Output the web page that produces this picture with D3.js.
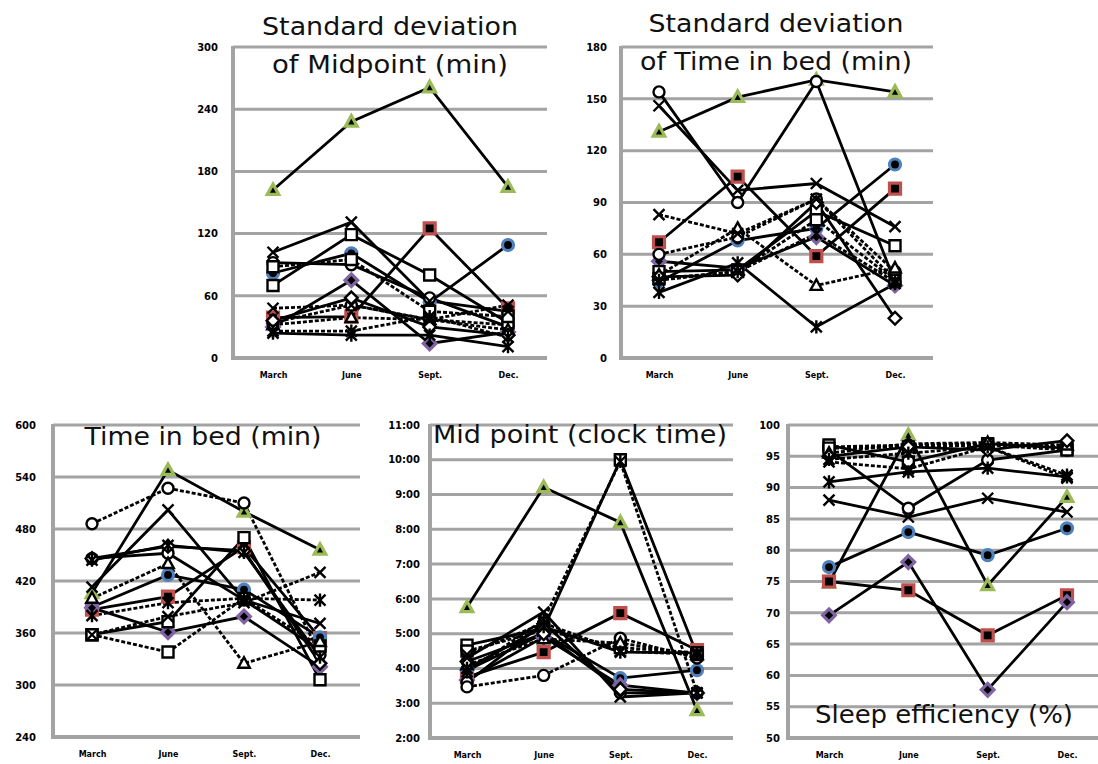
<!DOCTYPE html>
<html><head><meta charset="utf-8">
<script src="https://cdn.jsdelivr.net/npm/d3@7/dist/d3.min.js"></script>
<style>
html,body{margin:0;padding:0;background:#fff;}
svg{display:block;}
</style></head>
<body>
<svg id="chart" width="1098" height="764"></svg>
<script>
// ---------- DATA ----------
const months = ["March", "June", "Sept.", "Dec."];

const sdMidTicks = [0, 60, 120, 180, 240, 300];
const sdTibTicks = [0, 30, 60, 90, 120, 150, 180];
const tibTicks = [240, 300, 360, 420, 480, 540, 600];
const midTicks = [2, 3, 4, 5, 6, 7, 8, 9, 10, 11];
const midTickLabels = ["2:00","3:00","4:00","5:00","6:00","7:00","8:00","9:00","10:00","11:00"];
const seTicks = [50, 55, 60, 65, 70, 75, 80, 85, 90, 95, 100];

// one row per subject: March, June, Sept., Dec.
const sdMidpoint = [
  [162, 228, 261, 165],
  [39, 40, 125, 48],
  [82, 101, 54, 109],
  [30, 75, 14, 25],
  [92, 90, 58, 30],
  [34, 51, 37, 32],
  [70, 119, 80, 34],
  [88, 95, 45, 40],
  [32, 39, 37, 27],
  [36, 58, 30, 22],
  [102, 131, 55, 45],
  [48, 51, 37, 51],
  [24, 22, 22, 11],
  [26, 26, 40, 20]
];
const sdTimeInBed = [
  [131, 151, 161, 154],
  [67, 105, 59, 98],
  [44, 68, 75, 112],
  [56, 52, 70, 42],
  [154, 90, 160, 44],
  [60, 70, 92, 50],
  [50, 51, 85, 65],
  [46, 50, 80, 45],
  [48, 75, 42, 52],
  [47, 48, 90, 23],
  [146, 97, 101, 76],
  [83, 72, 92, 45],
  [38, 55, 18, 43],
  [45, 50, 72, 44]
];
const timeInBed = [
  [406, 548, 500, 456],
  [387, 402, 459, 354],
  [390, 427, 410, 355],
  [389, 361, 379, 321],
  [446, 452, 398, 340],
  [486, 527, 510, 335],
  [358, 373, 470, 306],
  [358, 338, 400, 345],
  [400, 440, 325, 350],
  [446, 460, 455, 325],
  [413, 502, 398, 371],
  [358, 379, 395, 430],
  [444, 461, 453, 332],
  [380, 395, 400, 398]
];
const midpointHours = [
  [5.76, 9.21, 8.2, 2.8],
  [3.75, 4.47, 5.59, 4.53],
  [3.95, 5.0, 3.72, 3.95],
  [3.67, 4.9, 3.52, 3.29],
  [3.6, 5.3, 3.3, 3.3],
  [3.47, 3.8, 4.87, 4.3],
  [4.67, 5.15, 10.0, 4.4],
  [4.5, 5.1, 4.6, 4.45],
  [4.1, 4.85, 4.73, 4.4],
  [4.2, 5.0, 3.4, 3.3],
  [4.3, 5.62, 3.18, 3.3],
  [4.4, 5.3, 4.5, 4.4],
  [4.0, 5.2, 4.47, 4.45],
  [3.9, 5.4, 9.95, 3.3]
];
const sleepEfficiency = [
  [74.8, 98.4, 74.4, 88.5],
  [75.0, 73.6, 66.4, 72.8],
  [77.3, 82.9, 79.2, 83.5],
  [69.6, 78.1, 57.7, 71.7],
  [96.0, 86.7, 94.4, 96.0],
  [96.5, 96.8, 97.0, 96.5],
  [96.8, 94.1, 97.0, 96.3],
  [96.3, 96.5, 96.8, 96.0],
  [95.5, 97.0, 97.2, 96.8],
  [95.0, 96.5, 96.0, 97.5],
  [88.0, 85.3, 88.3, 86.1],
  [94.1, 93.0, 96.5, 91.5],
  [90.9, 92.5, 93.1, 91.7],
  [94.5, 95.5, 96.5, 92.0]
];

// ---------- STYLES ----------
const markerShapes = ["triangle","square","circle","diamond","circle","circle","square","square","triangle","diamond","x","x","star","star"];
const markerColors = ["#9bbb59","#c0504d","#4f81bd","#8064a2",null,null,null,null,null,null,null,null,null,null];
const lineDashed = [false,false,false,false,false,true,false,true,true,false,false,true,false,true];

const svg = d3.select("#chart");
const GRID = "#a3a3a3";

function markerPath(shape, r) {
  const p = d3.path();
  if (shape === "circle") { p.arc(0, 0, r, 0, Math.PI * 2); p.closePath(); }
  else if (shape === "square") { p.rect(-r, -r, 2 * r, 2 * r); }
  else if (shape === "triangle") { p.moveTo(0, -r * 1.1); p.lineTo(r * 1.05, r * 0.8); p.lineTo(-r * 1.05, r * 0.8); p.closePath(); }
  else if (shape === "diamond") { p.moveTo(0, -r * 1.15); p.lineTo(r * 1.15, 0); p.lineTo(0, r * 1.15); p.lineTo(-r * 1.15, 0); p.closePath(); }
  else if (shape === "x") { p.moveTo(-r, -r); p.lineTo(r, r); p.moveTo(r, -r); p.lineTo(-r, r); }
  else if (shape === "star") { p.moveTo(-r, -r); p.lineTo(r, r); p.moveTo(r, -r); p.lineTo(-r, r); p.moveTo(0, -r * 1.2); p.lineTo(0, r * 1.2); }
  return p.toString();
}

function drawPanel(cfg) {
  const g = svg.append("g");
  const y = d3.scaleLinear().domain(cfg.domain).range([cfg.bottom, cfg.top]);
  const x = d3.scalePoint().domain(months).range(cfg.xRange);

  // gridlines
  g.selectAll("line.grid").data(cfg.ticks.slice(1)).join("line")
    .attr("x1", cfg.left).attr("x2", cfg.right)
    .attr("y1", d => y(d)).attr("y2", d => y(d))
    .attr("stroke", GRID).attr("stroke-width", 3);

  // axes lines
  g.append("line").attr("x1", cfg.left).attr("x2", cfg.left)
    .attr("y1", cfg.top - 1).attr("y2", cfg.bottom + 2)
    .attr("stroke", GRID).attr("stroke-width", 4);
  g.append("line").attr("x1", cfg.left - 2).attr("x2", cfg.right)
    .attr("y1", cfg.bottom).attr("y2", cfg.bottom)
    .attr("stroke", GRID).attr("stroke-width", 4);

  // y tick labels (via axis)
  const yAxis = d3.axisLeft(y).tickValues(cfg.ticks)
    .tickFormat((d, i) => cfg.tickLabels ? cfg.tickLabels[i] : d)
    .tickSize(0).tickPadding(0);
  const ya = g.append("g").attr("transform", `translate(${cfg.labelRight},0)`).call(yAxis);
  ya.select(".domain").remove();
  ya.selectAll("text").attr("font-family", "DejaVu Sans, sans-serif")
    .attr("font-size", 10).attr("font-weight", "bold").attr("fill", "#000");

  // x tick labels
  const xAxis = d3.axisBottom(x).tickSize(0).tickPadding(0);
  const xa = g.append("g").attr("transform", `translate(0,${cfg.bottom + 14})`).call(xAxis);
  xa.select(".domain").remove();
  xa.selectAll("text").attr("font-family", "DejaVu Sans, sans-serif")
    .attr("font-size", 8).attr("font-weight", "bold").attr("fill", "#000");

  // lines
  const line = d3.line().x((d, i) => x(months[i])).y(d => y(d));
  const series = cfg.data.map((vals, i) => ({ vals, i }));
  g.selectAll("path.series").data(series).join("path")
    .attr("d", d => line(d.vals))
    .attr("fill", "none").attr("stroke", "#000").attr("stroke-width", 2.8)
    .attr("stroke-dasharray", d => lineDashed[d.i] ? "4,2" : null);

  // markers
  series.forEach(s => {
    const shape = markerShapes[s.i];
    const col = markerColors[s.i];
    g.selectAll(null).data(s.vals).join("path")
      .attr("transform", (d, j) => `translate(${x(months[j])},${y(d)})`)
      .attr("d", markerPath(shape, 5.5))
      .attr("fill", col ? "#000" : (shape === "x" || shape === "star" ? "none" : "#fff"))
      .attr("stroke", col ? col : "#000")
      .attr("stroke-width", col ? 3.2 : 2.4);
  });

  // titles
  cfg.titles.forEach(t => {
    g.append("text").attr("x", t.x).attr("y", t.y)
      .attr("text-anchor", "middle")
      .attr("font-family", "DejaVu Sans, sans-serif")
      .attr("font-size", t.size).attr("fill", "#111")
      .attr("textLength", t.w).attr("lengthAdjust", "spacingAndGlyphs")
      .text(t.text);
  });
}

drawPanel({
  data: sdMidpoint, domain: [0, 300], ticks: sdMidTicks,
  left: 233, right: 547, top: 47, bottom: 358, xRange: [273, 508], labelRight: 218,
  titles: [{ text: "Standard deviation", x: 390, y: 35, size: 24, w: 256 },
           { text: "of Midpoint (min)", x: 390, y: 73, size: 24, w: 236 }]
});
drawPanel({
  data: sdTimeInBed, domain: [0, 180], ticks: sdTibTicks,
  left: 621, right: 933, top: 47, bottom: 358, xRange: [659, 895], labelRight: 607,
  titles: [{ text: "Standard deviation", x: 776, y: 32, size: 24, w: 255 },
           { text: "of Time in bed (min)", x: 776, y: 70, size: 24, w: 272 }]
});
drawPanel({
  data: timeInBed, domain: [240, 600], ticks: tibTicks,
  left: 53, right: 360, top: 425, bottom: 737, xRange: [92, 320], labelRight: 36,
  titles: [{ text: "Time in bed (min)", x: 203, y: 445, size: 24, w: 237 }]
});
drawPanel({
  data: midpointHours, domain: [2, 11], ticks: midTicks, tickLabels: midTickLabels,
  left: 430, right: 733, top: 425, bottom: 738, xRange: [467, 697], labelRight: 420,
  titles: [{ text: "Mid point (clock time)", x: 580, y: 443, size: 24, w: 294 }]
});
drawPanel({
  data: sleepEfficiency, domain: [50, 100], ticks: seTicks,
  left: 788, right: 1098, top: 425, bottom: 738, xRange: [829, 1067], labelRight: 780,
  titles: [{ text: "Sleep efficiency (%)", x: 944, y: 723, size: 24, w: 258 }]
});
</script>
</body></html>
